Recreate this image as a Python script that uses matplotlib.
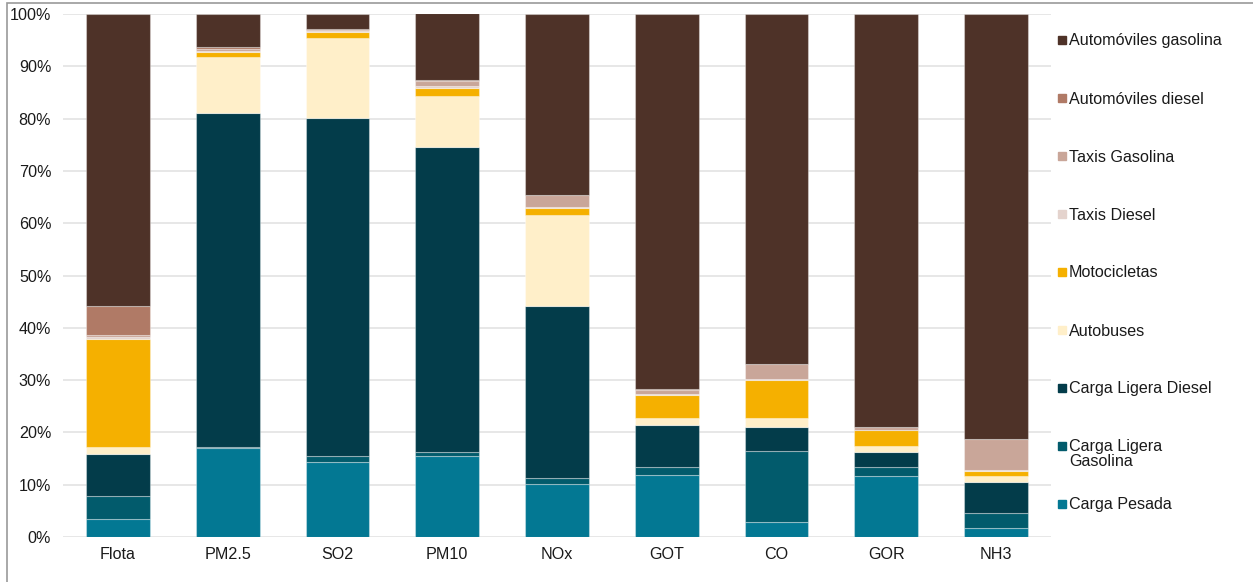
import matplotlib
matplotlib.use("Agg")
import matplotlib.pyplot as plt
from matplotlib.patches import Rectangle
import numpy as np

plt.rcParams['font.family'] = ['Liberation Sans', 'DejaVu Sans']

categories = ["Flota", "PM2.5", "SO2", "PM10", "NOx", "GOT", "CO", "GOR", "NH3"]

series_names = ["Carga Pesada", "Carga Ligera\nGasolina", "Carga Ligera Diesel", "Autobuses",
                "Motocicletas", "Taxis Diesel", "Taxis Gasolina", "Automóviles diesel",
                "Automóviles gasolina"]

carga_pesada = [3.4, 17.1, 14.3, 15.4, 10.1, 11.8, 2.8, 11.6, 1.7]
carga_ligera_gasolina = [4.4, 0.1, 1.2, 0.8, 1.1, 1.6, 13.7, 1.8, 2.8]
carga_ligera_diesel = [8.0, 63.9, 64.7, 58.4, 32.9, 8.1, 4.6, 2.9, 6.1]
autobuses = [1.5, 10.6, 15.2, 9.7, 17.5, 1.3, 1.7, 1.1, 1.1]
motocicletas = [20.6, 1.0, 1.2, 1.6, 1.3, 4.4, 7.3, 3.0, 1.0]
taxis_diesel = [0.3, 0.3, 0.1, 0.3, 0.2, 0.1, 0.1, 0.1, 0.1]
taxis_gasolina = [0.4, 0.4, 0.3, 0.9, 2.3, 0.9, 2.8, 0.5, 5.9]
automoviles_diesel = [5.6, 0.2, 0.1, 0.2, 0.0, 0.1, 0.1, 0.0, 0.1]
automoviles_gasolina = [55.8, 6.4, 2.9, 12.9, 34.6, 71.7, 66.9, 79.0, 81.2]

colors = ["#037893", "#025B6C", "#033C4A", "#FFEFC9", "#F5B000",
          "#E4D3CD", "#C9A699", "#B07A66", "#4E3228"]

series = [carga_pesada, carga_ligera_gasolina, carga_ligera_diesel, autobuses,
          motocicletas, taxis_diesel, taxis_gasolina, automoviles_diesel,
          automoviles_gasolina]

W, H = 1253, 582
FS = 11.6
fig = plt.figure(figsize=(W / 100, H / 100), dpi=100)
ax = fig.add_axes([63 / W, 1 - 537 / H, (1051 - 63) / W, (537 - 14) / H])

x = np.arange(len(categories))
bottom = np.zeros(len(categories))
for vals, c in zip(series, colors):
    v = np.array(vals, dtype=float)
    ax.bar(x, v, 0.58, bottom=bottom, color=c, edgecolor=(1, 1, 1, 0.35),
           linewidth=0.8, zorder=3)
    bottom += v

ax.set_xlim(-0.5, len(categories) - 0.5)
ax.set_ylim(0, 100)
ax.set_yticks(np.arange(0, 101, 10))
ax.set_yticklabels([f"{t}%" for t in range(0, 101, 10)])
ax.set_xticks(x)
ax.set_xticklabels(categories)
ax.tick_params(axis='both', length=0, labelsize=FS, colors='#1a1a1a')
ax.tick_params(axis='x', pad=7)
ax.tick_params(axis='y', pad=8.5)
ax.yaxis.grid(True, color='#E3E3E3', linewidth=1.2, zorder=0)
ax.set_axisbelow(True)
for s in ax.spines.values():
    s.set_visible(False)

# Legend (top entry first)
legend_y = [40, 98, 156, 214, 272, 330, 388, 446, 504]
for i, (name, c) in enumerate(zip(series_names[::-1], colors[::-1])):
    y = legend_y[i]
    fig.patches.append(Rectangle((1058 / W, 1 - (y + 4) / H), 8 / W, 8 / H,
                                 transform=fig.transFigure, color=c))
    fig.text(1069 / W, 1 - (y - 6.5) / H, name, fontsize=FS, va='top', ha='left',
             color='#1a1a1a', linespacing=0.92)

# Frame border (top and left visible)
fig.patches.append(Rectangle((7 / W, -0.05), 1.2, 1 - 3 / H + 0.05,
                             transform=fig.transFigure, fill=False,
                             edgecolor='#999999', linewidth=1.2))

fig.savefig("out.png", dpi=100)
